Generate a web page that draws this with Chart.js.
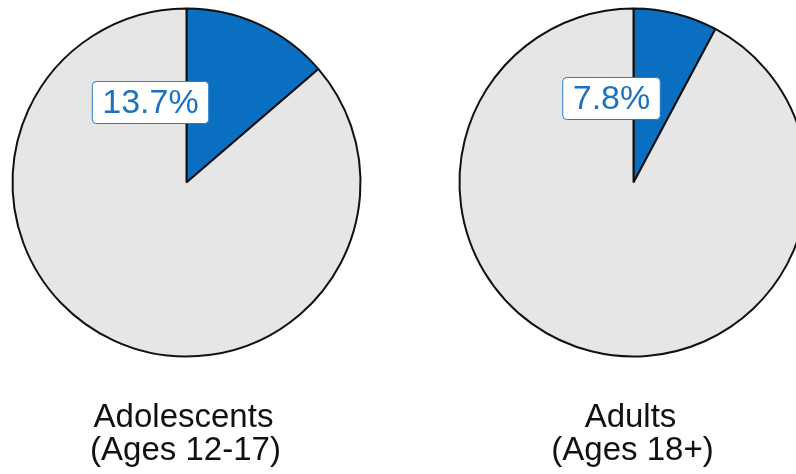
<!DOCTYPE html>
<html>
<head>
<meta charset="utf-8">
<script src="https://cdn.jsdelivr.net/npm/chart.js@4/dist/chart.umd.min.js"></script>
<style>
  html, body { margin: 0; padding: 0; background: #ffffff; overflow: hidden; }
  body { width: 796px; height: 474px; position: relative; }
  canvas { position: absolute; top: 0; }
</style>
</head>
<body>
<canvas id="pieA" width="373" height="474" style="left:0px"></canvas>
<canvas id="pieB" width="373" height="474" style="left:447px"></canvas>
<script>
// Share of each age group (percent), remainder drawn in grey
const groups = ['Adolescents', 'Adults'];
const groupAges = ['(Ages 12-17)', '(Ages 18+)'];
const sharePercent = [13.7, 7.8];

// Per-chart placement of the value tag, relative to the pie centre
const tagOffsets = [[-36, -80], [-22, -84]];

const BLUE = '#0a6fc1';
const GREY = '#e6e6e6';
const FONT = '"Liberation Sans", Arial, Helvetica, sans-serif';

const labelPlugin = {
  id: 'pieLabels',
  afterDraw(chart) {
    const ctx = chart.ctx;
    const idx = chart.options.plugins.pieLabels.index;
    const arc = chart.getDatasetMeta(0).data[0];
    const cx = arc.x, cy = arc.y;
    const value = chart.data.datasets[0].data[0];

    // value tag
    const text = value.toFixed(1) + '%';
    ctx.save();
    ctx.font = '34px ' + FONT;
    const w = ctx.measureText(text).width + 20;
    const h = 42;
    const tx = cx + tagOffsets[idx][0];
    const ty = cy + tagOffsets[idx][1];
    ctx.beginPath();
    ctx.roundRect(tx - w / 2, ty - h / 2, w, h, 4);
    ctx.fillStyle = '#ffffff';
    ctx.fill();
    ctx.lineWidth = 1;
    ctx.strokeStyle = '#2a7cc8';
    ctx.stroke();
    ctx.fillStyle = '#1b72c0';
    ctx.textAlign = 'center';
    ctx.textBaseline = 'middle';
    ctx.fillText(text, tx, ty + 1);

    // group caption under the pie
    ctx.font = '33px ' + FONT;
    ctx.fillStyle = '#111111';
    ctx.textBaseline = 'alphabetic';
    ctx.fillText(groups[idx], cx - 3, 427);
    ctx.fillText(groupAges[idx], cx - 1, 460);
    ctx.restore();
  }
};

function makePie(id, idx) {
  return new Chart(document.getElementById(id), {
    type: 'pie',
    data: {
      labels: [groups[idx], 'Other'],
      datasets: [{
        data: [sharePercent[idx], +(100 - sharePercent[idx]).toFixed(1)],
        backgroundColor: [BLUE, GREY],
        borderColor: '#111111',
        borderWidth: 2,
        radius: 174
      }]
    },
    options: {
      responsive: false,
      animation: false,
      layout: { padding: { top: 0, bottom: 109, left: 0, right: 0 } },
      plugins: {
        legend: { display: false },
        tooltip: { enabled: false },
        pieLabels: { index: idx }
      }
    },
    plugins: [labelPlugin]
  });
}

makePie('pieA', 0);
makePie('pieB', 1);
</script>
</body>
</html>
